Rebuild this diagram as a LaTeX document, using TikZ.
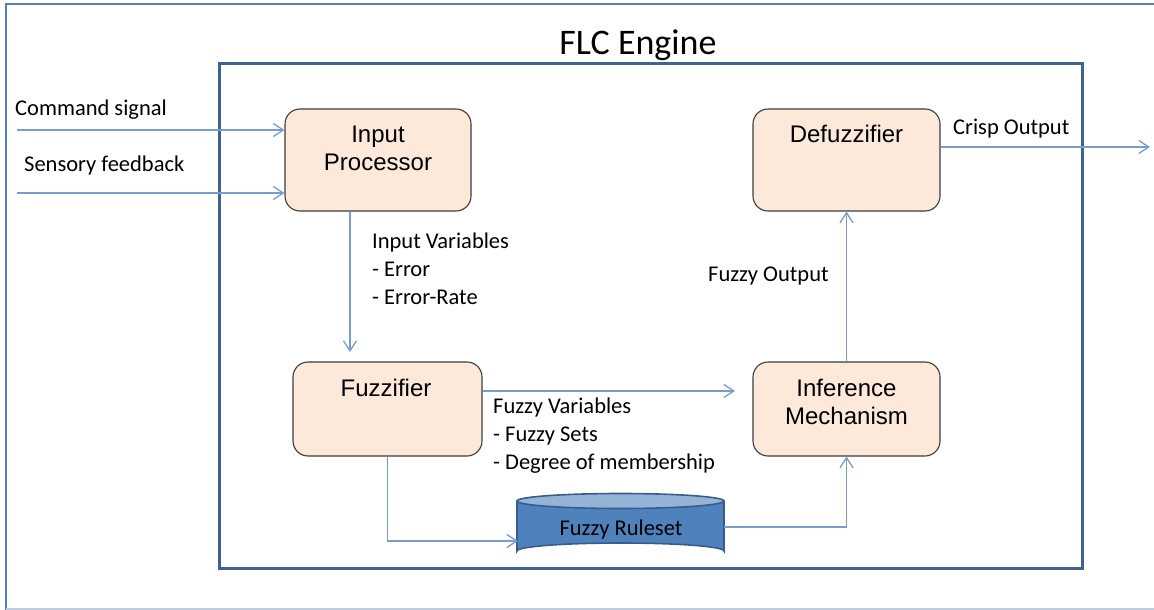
\documentclass[tikz,border=0pt]{standalone}
\usepackage{fontspec}
\setmainfont{Carlito}
\newfontfamily\boxfont{Liberation Sans}
\usetikzlibrary{arrows.meta}
\definecolor{frameblue}{RGB}{79,129,189}
\definecolor{framelight}{RGB}{190,204,226}
\definecolor{engineblue}{RGB}{62,98,148}
\definecolor{linkblue}{RGB}{118,156,208}
\definecolor{peach}{RGB}{253,233,217}
\definecolor{boxedge}{RGB}{60,60,60}
\definecolor{dbfill}{RGB}{79,129,189}
\definecolor{dbtop}{RGB}{149,179,215}
\definecolor{dbedge}{RGB}{56,93,138}
\tikzset{
  block/.style={draw=boxedge, line width=1.1pt, fill=peach, rounded corners=15pt, inner sep=0pt},
  blocktext/.style={font=\boxfont\fontsize{24}{28}\selectfont, align=center, inner sep=0pt},
  note/.style={font=\fontsize{22.5}{28}\selectfont, align=left, inner sep=0pt, anchor=west},
  link/.style={draw=linkblue, line width=1.3pt, -{Straight Barb[length=10pt,width=13pt,line width=1.3pt]}},
}
\begin{document}
\begin{tikzpicture}[x=1pt,y=-1pt]
\useasboundingbox (0,0) rectangle (1154,610);

% page frame
\draw[frameblue, line width=2.2pt] (6,610) -- (6,4) -- (1154,4);
\draw[framelight, line width=1.5pt] (6,609) -- (1154,609);

% engine frame and title
\draw[engineblue, line width=3pt] (219,64) rectangle (1082,568);
\node[font=\fontsize{36}{40}\selectfont, inner sep=0pt] (title) at (638,45) {FLC Engine};

% processing blocks
\node[block, minimum width=186pt, minimum height=102pt] (ip) at (378,160) {};
\node[block, minimum width=187pt, minimum height=102pt] (defz) at (846.5,160) {};
\node[block, minimum width=189pt, minimum height=94pt] (fuzz) at (387.5,409) {};
\node[block, minimum width=187pt, minimum height=94pt] (inf) at (846.5,409) {};

\node[blocktext] (ipT) at (378,148) {Input\\Processor};
\node[blocktext] (defzT) at (846.5,134) {Defuzzifier};
\node[blocktext] (fuzzT) at (386,388) {Fuzzifier};
\node[blocktext] (infT) at (846.5,401.5) {Inference\\Mechanism};

% rule base cylinder
\fill[dbfill] (517,501) -- (517,551) arc[start angle=180, end angle=360, x radius=103.5, y radius=8] -- (724,501) -- cycle;
\draw[dbedge, line width=1.6pt] (517,501) -- (517,551) arc[start angle=180, end angle=360, x radius=103.5, y radius=8] -- (724,501);
\draw[dbedge, fill=dbtop, line width=1.6pt] (620.5,501) ellipse[x radius=103.5, y radius=7.5];
\node[inner sep=0pt, minimum width=207pt, minimum height=64pt] (rules) at (620.5,526) {};
\node[font=\fontsize{22.5}{26}\selectfont, inner sep=0pt] (rulesT) at (621,529) {Fuzzy Ruleset};

% signal entry and exit points
\coordinate (cmdS) at (17,130);
\coordinate (sensS) at (17,193);
\coordinate (ipD) at (350,352);
\coordinate (fvE) at (735,391);
\coordinate (rIn) at (518,541);
\coordinate (rOut) at (724,527);
\coordinate (outE) at (1150,147);

% connectors
\draw[link] (cmdS) -- (ip.west |- cmdS);
\draw[link] (sensS) -- (ip.west |- sensS);
\draw[link] (ipD |- ip.south) -- (ipD);
\draw[link] (fuzz.east |- fvE) -- (fvE);
\draw[link] (fuzz.south) |- (rIn);
\draw[link] (rOut) -| (inf.south);
\draw[link] (inf.north) -- (defz.south);
\draw[link] (defz.east |- outE) -- (outE);

% connector labels
\node[note] (cmdL) at (15,110) {Command signal};
\node[note] (sensL) at (24,166) {Sensory feedback};
\node[note] (ivL) at (372,269) {Input Variables\\- Error\\- Error-Rate};
\node[note] (foL) at (708,276) {Fuzzy Output};
\node[note] (fvL) at (493,436) {Fuzzy Variables\\- Fuzzy Sets\\- Degree of membership};
\node[note] (coL) at (953,129) {Crisp Output};
\end{tikzpicture}
\end{document}
